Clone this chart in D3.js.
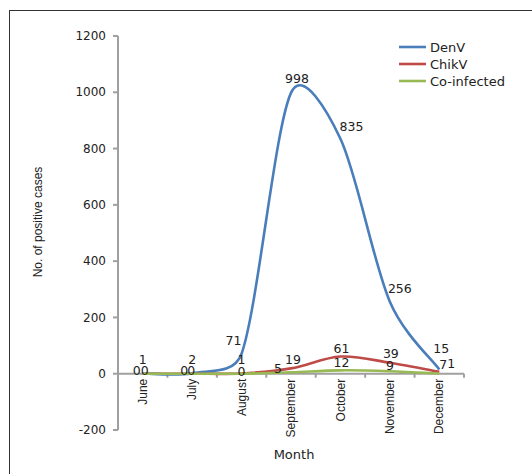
<!DOCTYPE html>
<meta charset="utf-8">
<script src="https://d3js.org/d3.v7.min.js"></script>
<style>
  body { margin: 0; background: #fff; }
  text { fill: #222; }
</style>
<div id="chart"></div>
<script>

// data
var months = ["June", "July", "August", "September", "October", "November", "December"];
var denv   = [1, 2, 71, 998, 835, 256, 15];
var chikv  = [0, 0, 1, 19, 61, 39, 7];
var coinf  = [0, 0, 0, 5, 12, 9, 1];
var yTicks = [-200, 0, 200, 400, 600, 800, 1000, 1200];

var series = [
  {name: "DenV", values: denv, color: "#4a7ebb",
   dx: [0, 0, -8, 6, 11, 10, 2], dy: [-9, -9, -9, -10, -8, -9, -16]},
  {name: "ChikV", values: chikv, color: "#be4b48",
   dx: [-6, -8, 0, 2, 1, 1, 4], dy: [1, 1, -9, -4, -4, -5, -3]},
  {name: "Co-infected", values: coinf, color: "#98b954",
   dx: [2, -1, 0, -13, 1, 0, 12], dy: [1, 1, 2, 1, -3, -1, -5]}
];

var W = 532, H = 474;
var svg = d3.select("#chart").append("svg")
    .attr("width", W)
    .attr("height", H);

// outer frame (runs off the right and bottom edges)
svg.append("rect")
  .attr("x", 9.5).attr("y", 10.5)
  .attr("width", 560).attr("height", 500)
  .attr("fill", "none")
  .attr("stroke", "#333");

var x = d3.scaleBand()
  .domain(months)
  .range([118, 464]);

var y = d3.scaleLinear()
  .domain([-200, 1200])
  .range([430, 36]);

var axisColor = "#a0a0a0";

// y axis
svg.append("line")
  .attr("x1", 118).attr("x2", 118)
  .attr("y1", y(1200)).attr("y2", y(-200))
  .attr("stroke", axisColor).attr("stroke-width", 2);

svg.selectAll(".ytick")
  .data(yTicks)
  .enter().append("line")
    .attr("x1", 113).attr("x2", 118)
    .attr("y1", function(d) { return y(d); })
    .attr("y2", function(d) { return y(d); })
    .attr("stroke", axisColor).attr("stroke-width", 2);

svg.selectAll(".ylab")
  .data(yTicks)
  .enter().append("text")
    .attr("x", 106)
    .attr("y", function(d) { return y(d); })
    .attr("dy", "0.35em")
    .attr("text-anchor", "end")
    .style("font", "12px 'DejaVu Sans'")
    .text(function(d) { return d; });

// x axis sits at zero
svg.append("line")
  .attr("x1", 118).attr("x2", 464)
  .attr("y1", y(0)).attr("y2", y(0))
  .attr("stroke", axisColor).attr("stroke-width", 2);

svg.selectAll(".xtick")
  .data(months)
  .enter().append("line")
    .attr("x1", function(d) { return x(d) + x.bandwidth(); })
    .attr("x2", function(d) { return x(d) + x.bandwidth(); })
    .attr("y1", y(0)).attr("y2", y(0) + 4)
    .attr("stroke", axisColor).attr("stroke-width", 2);

svg.selectAll(".xlab")
  .data(months)
  .enter().append("text")
    .attr("transform", function(d) {
      return "translate(" + (x(d) + x.bandwidth() / 2) + "," + (y(0) + 5) + ") rotate(-90)";
    })
    .attr("dy", "0.35em")
    .attr("text-anchor", "end")
    .style("font", "12px 'Liberation Sans', Arial")
    .text(function(d) { return d; });

// axis titles
svg.append("text")
  .attr("transform", "translate(38,222) rotate(-90)")
  .attr("dy", "0.35em")
  .attr("text-anchor", "middle")
  .style("font", "12px 'Liberation Sans', Arial")
  .text("No. of positive cases");

svg.append("text")
  .attr("x", 294).attr("y", 459)
  .attr("text-anchor", "middle")
  .style("font", "13px 'DejaVu Sans'")
  .text("Month");

// spreadsheet-style smoothing: catmull-rom handles (tangent / 6),
// each clamped to a share of the segment it sits on
function smoothPath(pts) {
  var p = d3.path(), n = pts.length;
  function dist(a, b) { return Math.hypot(b[0] - a[0], b[1] - a[1]); }
  function handle(i, side) {
    var prev = pts[Math.max(i - 1, 0)], next = pts[Math.min(i + 1, n - 1)];
    var hx = (next[0] - prev[0]) / 6, hy = (next[1] - prev[1]) / 6;
    var len = Math.hypot(hx, hy) || 1;
    var seg = side < 0 ? dist(pts[i - 1], pts[i]) : dist(pts[i], pts[i + 1]);
    var k = Math.min(1, seg * 0.42 / len);
    return [pts[i][0] + side * hx * k, pts[i][1] + side * hy * k];
  }
  p.moveTo(pts[0][0], pts[0][1]);
  for (var i = 0; i < n - 1; i++) {
    var a = handle(i, 1), b = handle(i + 1, -1);
    p.bezierCurveTo(a[0], a[1], b[0], b[1], pts[i + 1][0], pts[i + 1][1]);
  }
  return p.toString();
}

series.forEach(function(s) {
  var pts = s.values.map(function(v, i) {
    return [x(months[i]) + x.bandwidth() / 2, y(v)];
  });
  svg.append("path")
    .attr("d", smoothPath(pts))
    .attr("fill", "none")
    .attr("stroke", s.color)
    .attr("stroke-width", 2.6);
});

// data labels
series.forEach(function(s) {
  svg.selectAll(null)
    .data(s.values)
    .enter().append("text")
      .attr("x", function(d, i) { return x(months[i]) + x.bandwidth() / 2 + s.dx[i]; })
      .attr("y", function(d, i) { return y(d) + s.dy[i]; })
      .attr("text-anchor", "middle")
      .style("font", "12.5px 'DejaVu Sans'")
      .text(function(d) { return d; });
});

// legend
var legend = svg.selectAll(".legend")
  .data(series)
  .enter().append("g")
    .attr("transform", function(d, i) { return "translate(399," + (47 + i * 17) + ")"; });

legend.append("line")
  .attr("x1", 0).attr("x2", 27)
  .attr("stroke", function(d) { return d.color; })
  .attr("stroke-width", 2.6);

legend.append("text")
  .attr("x", 31)
  .attr("dy", "0.35em")
  .style("font", "13px 'DejaVu Sans'")
  .text(function(d) { return d.name; });

</script>
